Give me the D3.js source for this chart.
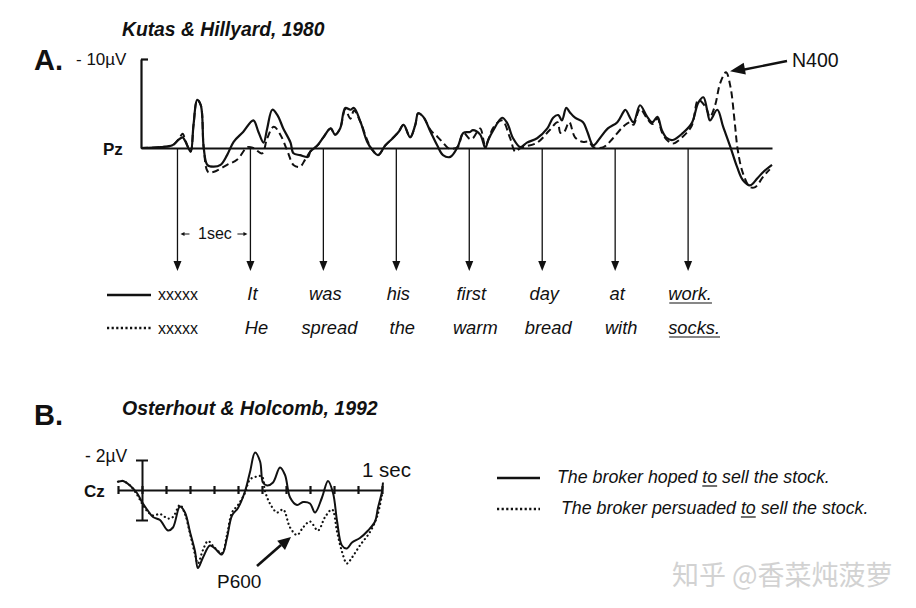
<!DOCTYPE html>
<html><head><meta charset="utf-8">
<script src="https://cdn.jsdelivr.net/npm/d3@7"></script>
<style>
body{margin:0;background:#fff}
svg{display:block}
text{font-family:"Liberation Sans",Arial,Helvetica,sans-serif;fill:#111}
</style>
</head><body>
<svg id="c" width="916" height="608"></svg>
<script>
// ---------- DATA ----------
// Panel A (Kutas & Hillyard, 1980), Pz, time in s, amplitude in µV (negative up)
const wordOnsets = [0, 1, 2, 3, 4, 5, 6, 7];
const sentenceCongruent = ["xxxxx", "It", "was", "his", "first", "day", "at", "work."];
const sentenceIncongruent = ["xxxxx", "He", "spread", "the", "warm", "bread", "with", "socks."];

const pzSolidTime = [-0.5,-0.23,-0.07,0.01,0.07,0.11,0.18,0.22,0.27,0.32,
  0.36,0.41,0.49,0.59,0.68,0.77,0.90,1.04,1.11,1.18,
  1.23,1.30,1.37,1.45,1.55,1.59,1.68,1.79,1.82,1.92,
  2.00,2.10,2.16,2.23,2.30,2.37,2.42,2.51,2.60,2.67,
  2.75,2.85,2.95,3.03,3.10,3.19,3.26,3.30,3.37,3.47,
  3.56,3.64,3.74,3.84,3.92,4.01,4.05,4.15,4.22,4.26,
  4.33,4.45,4.52,4.60,4.70,4.79,4.93,5.07,5.15,5.22,
  5.27,5.33,5.38,5.45,5.56,5.62,5.70,5.79,5.90,6.03,
  6.11,6.14,6.25,6.34,6.44,6.51,6.58,6.64,6.71,6.79,
  6.93,7.05,7.14,7.21,7.26,7.30,7.40,7.48,7.58,7.67,
  7.75,7.85,7.95,8.03,8.15];
const pzSolid = [0,-0.1,-0.3,-0.9,-1.2,-0.7,0.4,-2.6,-5.4,-4.8,
  0,1.9,2.1,1.9,0.8,-0.7,-1.8,-3.1,-1.8,-0.6,
  -2.2,-4.3,-3.7,-2.2,-0.6,0.6,0.8,1.0,0.4,-0.3,
  -1.2,-2.2,-1.5,-2.2,-4.5,-4.3,-4.5,-2.9,-0.7,0.2,
  0.8,-0.3,-1.1,-1.8,-2.6,-1.2,-2.6,-3.9,-3.5,-1.8,
  -0.3,0.8,1.0,-0.1,-1.7,-1.8,-2.0,-1.5,0,-0.9,
  -2.0,-3.4,-2.8,-1.1,-0.1,-0.6,-1.1,-2.2,-3.4,-3.7,
  -3.1,-4.5,-4.0,-3.4,-2.9,-1.8,-0.3,-1.1,-2.2,-2.9,
  -4.0,-4.3,-2.9,-4.8,-3.5,-2.9,-3.5,-2.0,-1.1,-0.9,
  -1.7,-2.8,-5.1,-5.7,-4.3,-3.1,-4.3,-2.4,-0.1,2.1,
  3.6,4.2,3.4,2.7,1.9];

const pzDashTime = [-0.5,-0.23,-0.07,0.01,0.07,0.11,0.18,0.22,0.27,0.32,
  0.36,0.42,0.49,0.68,0.82,0.96,1.04,1.16,1.23,1.32,
  1.41,1.51,1.59,1.68,1.75,1.82,1.92,2.00,2.10,2.16,
  2.23,2.30,2.37,2.42,2.51,2.60,2.67,2.75,2.85,2.95,
  3.03,3.10,3.19,3.26,3.30,3.37,3.47,3.56,3.64,3.71,
  3.76,3.84,3.92,4.01,4.05,4.15,4.22,4.33,4.45,4.56,
  4.63,4.70,4.93,5.10,5.21,5.25,5.30,5.37,5.45,5.55,
  5.64,5.70,5.84,5.97,6.11,6.21,6.25,6.34,6.44,6.51,
  6.58,6.64,6.71,6.79,6.93,7.05,7.14,7.24,7.30,7.37,
  7.44,7.52,7.58,7.64,7.68,7.75,7.85,7.92,8.03,8.12];
const pzDash = [0,-0.1,-0.3,-0.9,-1.6,-0.8,0.4,-2.6,-5.4,-4.8,
  0,2.7,2.7,1.9,1.3,-0.1,0,0.6,-1.1,-2.4,
  -1.5,0.4,1.9,2.1,1.3,0.4,-0.3,-1.2,-2.2,-1.5,
  -2.2,-4.3,-3.3,-4.2,-2.9,-0.9,0.2,0.8,-0.3,-1.1,
  -1.8,-2.6,-1.2,-2.6,-3.9,-3.5,-2.0,-1.3,-0.6,0,
  0.1,-0.1,-1.7,-1.0,-1.1,-2.2,-0.3,-2.3,-3.1,-1.1,
  0.4,0,-0.6,-2.0,-2.9,-1.7,-1.8,-2.9,-1.2,-0.7,
  -0.7,-0.1,-0.1,-1.1,-2.4,-2.9,-2.6,-4.4,-3.3,-2.7,
  -3.3,-1.8,-0.9,-0.5,-1.3,-2.5,-5.4,-4.6,-3.5,-4.8,
  -7.3,-8.5,-6.9,-2.8,0.2,2.8,4.4,4.4,3.2,2.4];

// Panel B (Osterhout & Holcomb, 1992), Cz, time in ms, amplitude in µV (negative up)
const czTicks = [-100,0,100,200,300,400,500,600,700,800,900,1000];
const czSolidTime = [-100,-79,-50,-21,0,21,46,75,108,129,
  158,179,200,221,233,254,283,304,333,354,
  375,400,429,450,471,492,504,521,546,575,
  596,617,646,671,700,721,750,775,796,813,
  833,854,875,908,942,971,983,1000,1004];
const czSolid = [-0.55,-0.6,-0.3,0.2,0.8,1.3,1.8,2.0,2.7,2.5,
  1.1,1.5,2.8,4.1,5.2,4.5,3.7,3.9,4.3,3.2,
  1.7,1.2,0.1,-1.2,-2.5,-1.9,-0.5,-0.3,-0.5,-1.5,
  -1.0,0.5,1.0,0.8,0.9,1.5,0.5,-0.6,0.2,2.1,
  3.7,3.9,3.5,3.2,2.7,2.1,1.2,0.1,-0.5];
const czDotTime = [-100,-79,-50,-21,0,21,46,75,108,129,
  158,179,200,221,233,254,275,300,333,354,
  375,400,429,450,479,500,513,533,563,588,
  617,646,671,700,733,763,792,813,833,854,
  875,908,950,979,1000];
const czDot = [-0.55,-0.6,-0.3,0.3,0.9,1.4,1.7,1.6,1.9,1.8,
  1.0,1.6,2.9,4.3,4.9,4.0,3.4,3.8,4.2,3.0,
  1.5,1.0,0.2,-0.7,-0.9,-0.9,0.1,0.9,1.5,1.3,
  2.5,3.0,2.5,2.1,2.7,1.8,1.3,2.8,4.1,4.9,
  4.5,3.7,2.8,1.8,0.3];

const legendB = ["The broker hoped to sell the stock.", "The broker persuaded to sell the stock."];

// ---------- DRAW ----------
const svg = d3.select("#c");
const ink = "#111";

function arrowHead(g, tipX, tipY, fromX, fromY, len, wid) {
  const dx = tipX - fromX, dy = tipY - fromY, L = Math.hypot(dx, dy);
  const ux = dx / L, uy = dy / L, px = -uy, py = ux;
  const bx = tipX - ux * len, by = tipY - uy * len;
  g.append("path")
    .attr("d", `M${tipX},${tipY}L${bx + px * wid / 2},${by + py * wid / 2}L${bx - px * wid / 2},${by - py * wid / 2}Z`)
    .attr("fill", ink);
}

// ===== Panel A =====
const xA = d3.scaleLinear().domain([-0.5, 8.15]).range([141, 772]);
const yA = d3.scaleLinear().domain([-10, 0]).range([59, 148]);
const gA = svg.append("g");

gA.append("text").attr("x", 122).attr("y", 36).attr("font-size", 19.3)
  .attr("font-weight", "bold").attr("font-style", "italic").text("Kutas & Hillyard, 1980");
gA.append("text").attr("x", 34).attr("y", 70).attr("font-size", 29).attr("font-weight", "bold").text("A.");
gA.append("text").attr("x", 76).attr("y", 65).attr("font-size", 17).text("- 10\u00b5V");
gA.append("text").attr("x", 103).attr("y", 155).attr("font-size", 17).attr("font-weight", "bold").text("Pz");

// vertical calibration axis
const axA = gA.append("g").attr("transform", `translate(${xA(-0.5)},0)`)
  .call(d3.axisRight(yA).tickValues([-10]).tickSize(7).tickSizeOuter(0).tickFormat(""));
axA.select(".domain").attr("stroke", ink).attr("stroke-width", 2.2);
axA.selectAll(".tick line").attr("stroke", ink).attr("stroke-width", 2.2);

// baseline
const baseA = gA.append("g").attr("transform", `translate(0,${yA(0)})`)
  .call(d3.axisBottom(xA).tickValues([]).tickSizeOuter(0));
baseA.select(".domain").attr("stroke", ink).attr("stroke-width", 2);

// word-onset arrows
wordOnsets.forEach(t => {
  const x = xA(t);
  gA.append("line").attr("x1", x).attr("x2", x).attr("y1", yA(0)).attr("y2", 262)
    .attr("stroke", ink).attr("stroke-width", 1.3);
  arrowHead(gA, x, 271, x, 200, 10, 8);
});

// 1 sec annotation
{
  const x0 = xA(0), x1 = xA(1);
  gA.append("text").attr("x", (x0 + x1) / 2 + 1).attr("y", 239).attr("text-anchor", "middle")
    .attr("font-size", 16).text("1sec");
  gA.append("line").attr("x1", x0 + 12).attr("x2", x0 + 6).attr("y1", 234).attr("y2", 234).attr("stroke", ink).attr("stroke-width", 1);
  arrowHead(gA, x0 + 3, 234, x0 + 12, 234, 4, 4);
  gA.append("line").attr("x1", x1 - 13).attr("x2", x1 - 6).attr("y1", 234).attr("y2", 234).attr("stroke", ink).attr("stroke-width", 1);
  arrowHead(gA, x1 - 3, 234, x1 - 13, 234, 4, 4);
}

// waveforms
const lineA = d3.line().x(d => xA(d[0])).y(d => yA(d[1])).curve(d3.curveCatmullRom.alpha(0.5));
gA.append("path").datum(pzDashTime.map((t, i) => [t, pzDash[i]]))
  .attr("d", lineA).attr("fill", "none").attr("stroke", ink).attr("stroke-width", 2)
  .attr("stroke-dasharray", "7,4");
gA.append("path").datum(pzSolidTime.map((t, i) => [t, pzSolid[i]]))
  .attr("d", lineA).attr("fill", "none").attr("stroke", ink).attr("stroke-width", 2.2)
  .attr("stroke-linejoin", "round");

// N400 label & arrow
gA.append("text").attr("x", 792).attr("y", 67).attr("font-size", 19.5).text("N400");
gA.append("line").attr("x1", 787).attr("y1", 61).attr("x2", 742).attr("y2", 70).attr("stroke", ink).attr("stroke-width", 2.4);
arrowHead(gA, xA(7.52) + 4, yA(-8.5) - 1, 787, 61, 15, 12);

// sentence legend
gA.append("line").attr("x1", 107).attr("x2", 151).attr("y1", 295).attr("y2", 295).attr("stroke", ink).attr("stroke-width", 2.6);
gA.append("line").attr("x1", 107).attr("x2", 151).attr("y1", 328).attr("y2", 328).attr("stroke", ink).attr("stroke-width", 2.6)
  .attr("stroke-dasharray", "2.2,2.4");
[[sentenceCongruent, 300, 2], [sentenceIncongruent, 334, 6]].forEach(([words, y, off]) => {
  words.forEach((w, i) => {
    const isX = i === 0;
    const t = gA.append("text")
      .attr("x", isX ? 158 : xA(wordOnsets[i]) + off)
      .attr("y", y)
      .attr("text-anchor", isX ? "start" : "middle")
      .attr("font-size", isX ? 16 : 18.3)
      .attr("font-style", isX ? "normal" : "italic")
      .text(w);
    if (i === words.length - 1) {
      const b = t.node().getBBox();
      gA.append("line").attr("x1", b.x + 1).attr("x2", b.x + b.width).attr("y1", y + 3).attr("y2", y + 3)
        .attr("stroke", ink).attr("stroke-width", 1.2);
    }
  });
});

// ===== Panel B =====
const xB = d3.scaleLinear().domain([-100, 1000]).range([118, 382]);
const yB = d3.scaleLinear().domain([-2, 2]).range([460, 520]);
const gB = svg.append("g");

gB.append("text").attr("x", 122).attr("y", 415).attr("font-size", 19.5)
  .attr("font-weight", "bold").attr("font-style", "italic").text("Osterhout & Holcomb, 1992");
gB.append("text").attr("x", 34).attr("y", 425).attr("font-size", 29).attr("font-weight", "bold").text("B.");
gB.append("text").attr("x", 85).attr("y", 462).attr("font-size", 17.5).text("- 2\u00b5V");
gB.append("text").attr("x", 84).attr("y", 497).attr("font-size", 17).attr("font-weight", "bold").text("Cz");
gB.append("text").attr("x", 362).attr("y", 477).attr("font-size", 20.5).text("1 sec");

const baseB = gB.append("g").attr("transform", `translate(0,${yB(0)})`)
  .call(d3.axisBottom(xB).tickValues(czTicks).tickSizeOuter(0).tickFormat(""));
baseB.select(".domain").attr("stroke", ink).attr("stroke-width", 2);
baseB.selectAll(".tick line").attr("y1", -4).attr("y2", 4).attr("stroke", ink).attr("stroke-width", 2.2);

const calB = gB.append("g").attr("transform", `translate(${xB(0)},0)`)
  .call(d3.axisLeft(yB).tickValues([-2, 2]).tickSizeOuter(0).tickFormat(""));
calB.select(".domain").attr("stroke", ink).attr("stroke-width", 2);
calB.selectAll(".tick line").attr("x1", -6).attr("x2", 6).attr("stroke", ink).attr("stroke-width", 2);

const lineB = d3.line().x(d => xB(d[0])).y(d => yB(d[1])).curve(d3.curveCatmullRom.alpha(0.5));
gB.append("path").datum(czDotTime.map((t, i) => [t, czDot[i]]))
  .attr("d", lineB).attr("fill", "none").attr("stroke", ink).attr("stroke-width", 2.2)
  .attr("stroke-dasharray", "0.1,4.2").attr("stroke-linecap", "round");
gB.append("path").datum(czSolidTime.map((t, i) => [t, czSolid[i]]))
  .attr("d", lineB).attr("fill", "none").attr("stroke", ink).attr("stroke-width", 2);

// P600
gB.append("text").attr("x", 217).attr("y", 588).attr("font-size", 19).text("P600");
gB.append("line").attr("x1", 257).attr("y1", 566).attr("x2", 281).attr("y2", 545).attr("stroke", ink).attr("stroke-width", 2.6);
arrowHead(gB, 291, 537, 257, 566, 13, 12);

// legend B
gB.append("line").attr("x1", 497).attr("x2", 540).attr("y1", 478).attr("y2", 478).attr("stroke", ink).attr("stroke-width", 2.6);
gB.append("line").attr("x1", 497).attr("x2", 540).attr("y1", 509).attr("y2", 509).attr("stroke", ink).attr("stroke-width", 2.6)
  .attr("stroke-dasharray", "2.2,2.4");
[[legendB[0], 557, 483], [legendB[1], 561, 514]].forEach(([s, x, y]) => {
  const t = gB.append("text").attr("x", x).attr("y", y).attr("font-size", 17.8).attr("font-style", "italic").text(s);
  const i = s.indexOf(" to ") + 1;
  const n = t.node();
  const a = n.getStartPositionOfChar(i).x, b = n.getEndPositionOfChar(i + 1).x;
  gB.append("line").attr("x1", a).attr("x2", b).attr("y1", y + 3).attr("y2", y + 3).attr("stroke", ink).attr("stroke-width", 1.2);
});

// watermark
svg.append("text").attr("x", 672).attr("y", 585)
  .style("font-family", "'Noto Sans CJK SC', sans-serif").attr("font-size", 27)
  .style("fill", "#d2d2d2").text("知乎 @香菜炖菠萝");
</script>
</body></html>
